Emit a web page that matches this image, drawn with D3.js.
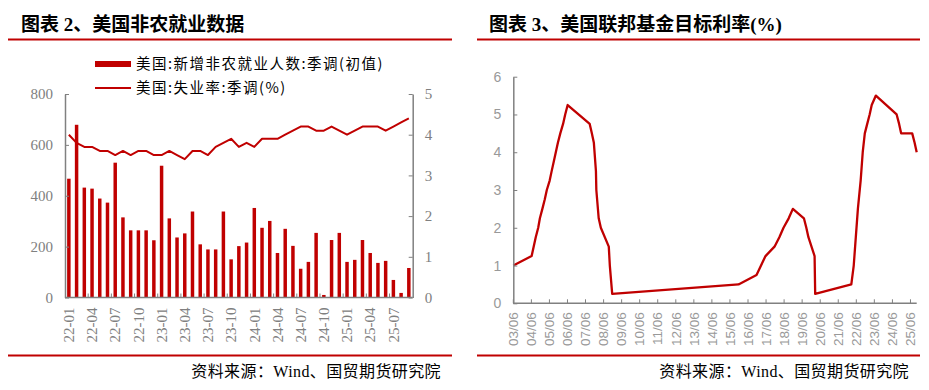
<!DOCTYPE html>
<html><head><meta charset="utf-8">
<script src="https://cdn.jsdelivr.net/npm/d3@7/dist/d3.min.js"></script>
<style>body{margin:0;background:#fff}svg{display:block}</style>
</head><body>
<svg id="c" width="929" height="390"></svg>
<script>
// ---------- DATA ----------
const months = ["22-01","22-02","22-03","22-04","22-05","22-06","22-07","22-08","22-09","22-10","22-11","22-12",
  "23-01","23-02","23-03","23-04","23-05","23-06","23-07","23-08","23-09","23-10","23-11","23-12",
  "24-01","24-02","24-03","24-04","24-05","24-06","24-07","24-08","24-09","24-10","24-11","24-12",
  "25-01","25-02","25-03","25-04","25-05","25-06","25-07","25-08","25-09"];
const payrolls = [467,679,432,428,389,373,530,315,264,264,264,225,
  518,311,236,252,338,209,189,189,338,150,202,216,
  352,274,301,175,270,203,113,140,254,10,226,254,
  140,148,226,175,136,144,69,18,116];
const unemployment = [4.0,3.8,3.7,3.7,3.6,3.6,3.5,3.6,3.5,3.6,3.6,3.5,
  3.5,3.6,3.5,3.4,3.6,3.6,3.5,3.7,3.8,3.9,3.7,3.8,
  3.7,3.9,3.9,3.9,4.0,4.1,4.2,4.2,4.1,4.1,4.2,4.1,
  4.0,4.1,4.2,4.2,4.2,4.1,4.2,4.3,4.4];
const payrollTicks = [0,200,400,600,800];
const rateTicksL = [0,1,2,3,4,5];

const fedDates = ["2003-06-25","2004-06-30","2004-08-10","2004-09-21","2004-11-10","2004-12-14",
  "2005-02-02","2005-03-22","2005-05-03","2005-06-30","2005-08-09","2005-09-20","2005-11-01","2005-12-13",
  "2006-01-31","2006-03-28","2006-05-10","2006-06-29","2007-09-18","2007-10-31","2007-12-11",
  "2008-01-22","2008-01-30","2008-03-18","2008-04-30","2008-10-08","2008-10-29","2008-12-16",
  "2015-12-16","2016-12-14","2017-03-15","2017-06-14","2017-12-13","2018-03-21","2018-06-13",
  "2018-09-26","2018-12-19","2019-07-31","2019-09-18","2019-10-30","2020-03-03","2020-03-15",
  "2022-03-16","2022-05-04","2022-06-15","2022-07-27","2022-09-21","2022-11-02","2022-12-14",
  "2023-02-01","2023-03-22","2023-05-03","2023-07-26","2024-09-18","2024-11-07","2024-12-18",
  "2025-07-30","2025-09-17","2025-10-29"];
const fedRate = [1.00,1.25,1.50,1.75,2.00,2.25,
  2.50,2.75,3.00,3.25,3.50,3.75,4.00,4.25,
  4.50,4.75,5.00,5.25,4.75,4.50,4.25,
  3.50,3.00,2.25,2.00,1.50,1.00,0.25,
  0.50,0.75,1.00,1.25,1.50,1.75,2.00,
  2.25,2.50,2.25,2.00,1.75,1.25,0.25,
  0.50,1.00,1.75,2.50,3.25,4.00,4.50,
  4.75,5.00,5.25,5.50,5.00,4.75,4.50,
  4.50,4.25,4.00];
const fedTickLabels = ["03/06","04/06","05/06","06/06","07/06","08/06","09/06","10/06","11/06","12/06",
  "13/06","14/06","15/06","16/06","17/06","18/06","19/06","20/06","21/06","22/06","23/06","24/06","25/06"];
const fedYTicks = [0,1,2,3,4,5,6];

// ---------- DRAW ----------
const svg = d3.select("#c");
const RED = "#C00000", GREY = "#808080";
const cjk = "'Liberation Serif','Noto Sans CJK SC',serif";

function decor(x0, x1, tx, title) {
  svg.append("text").attr("x", tx).attr("y", 31).text(title)
    .attr("font-family", cjk).attr("font-weight", "bold").attr("font-size", 19).attr("fill", "#000");
  svg.append("line").attr("x1", x0).attr("x2", x1).attr("y1", 39.5).attr("y2", 39.5)
    .attr("stroke", RED).attr("stroke-width", 2);
  svg.append("line").attr("x1", x0).attr("x2", x1).attr("y1", 355.5).attr("y2", 355.5)
    .attr("stroke", RED).attr("stroke-width", 2);
  svg.append("text").attr("x", x1 - 11).attr("y", 377).attr("text-anchor", "end")
    .text("资料来源：Wind、国贸期货研究院").attr("letter-spacing", 0.4)
    .attr("font-family", cjk).attr("font-size", 16).attr("fill", "#000");
}
decor(8, 452, 21, "图表 2、美国非农就业数据");
decor(477, 920, 489, "图表 3、美国联邦基金目标利率(%)");

// ----- left chart -----
const L = {x0: 65, x1: 412.7, yTop: 94, yBot: 297.5};
const xB = d3.scaleBand().domain(months).range([L.x0, L.x1]).paddingInner(0.55).paddingOuter(0.275);
const yP = d3.scaleLinear().domain([0, 800]).range([L.yBot, L.yTop]);
const yU = d3.scaleLinear().domain([0, 5]).range([L.yBot, L.yTop]);

const gL = svg.append("g");
gL.selectAll("rect.bar").data(payrolls).join("rect").attr("class", "bar")
  .attr("x", (d, i) => xB(months[i])).attr("width", xB.bandwidth())
  .attr("y", d => yP(d)).attr("height", d => yP(0) - yP(d)).attr("fill", RED);

const lineU = d3.line().x((d, i) => xB(months[i]) + xB.bandwidth() / 2).y(d => yU(d));
gL.append("path").datum(unemployment).attr("d", lineU).attr("fill", "none")
  .attr("stroke", RED).attr("stroke-width", 2).attr("stroke-linejoin", "round");

function styleAxis(g, font, size) {
  g.select(".domain").attr("stroke", GREY).attr("stroke-width", 1.5);
  g.selectAll(".tick line").attr("stroke", GREY).attr("stroke-width", 1);
  g.selectAll(".tick text").attr("fill", GREY).attr("font-family", font).attr("font-size", size);
}
const serif = "'Liberation Serif','Times New Roman',serif";
const sans = "'Liberation Sans',Arial,sans-serif";
const intFmt = d3.format("d");

const axL = svg.append("g").attr("transform", `translate(${L.x0},0)`)
  .call(d3.axisLeft(yP).tickValues(payrollTicks).tickFormat(intFmt).tickSize(-4).tickSizeOuter(0).tickPadding(12));
styleAxis(axL, serif, 15);
const axR = svg.append("g").attr("transform", `translate(${L.x1},0)`)
  .call(d3.axisRight(yU).tickValues(rateTicksL).tickFormat(intFmt).tickSize(-4).tickSizeOuter(0).tickPadding(12));
styleAxis(axR, serif, 15);

// bottom category axis
const step = xB.step();
const labelIdx = months.map((m, i) => i).filter(i => i % 3 === 0);
const axB = svg.append("g");
axB.append("line").attr("x1", L.x0).attr("x2", L.x1).attr("y1", L.yBot).attr("y2", L.yBot)
  .attr("stroke", GREY).attr("stroke-width", 1.5);
axB.selectAll("line.t").data(labelIdx.slice(1)).join("line").attr("class", "t")
  .attr("x1", i => L.x0 + step * i).attr("x2", i => L.x0 + step * i)
  .attr("y1", L.yBot).attr("y2", L.yBot - 4).attr("stroke", GREY);
axB.selectAll("text").data(labelIdx).join("text")
  .attr("transform", i => `translate(${xB(months[i]) + xB.bandwidth() / 2},${L.yBot + 10}) rotate(-90)`)
  .attr("text-anchor", "end").attr("dy", "0.35em")
  .attr("font-family", serif).attr("font-size", 15).attr("fill", GREY).text(i => months[i]);

// legend
const lg = svg.append("g").attr("font-family", "'Noto Sans CJK SC',sans-serif").attr("font-size", 14.5)
  .attr("fill", "#000").attr("letter-spacing", 1.5);
lg.append("rect").attr("x", 95).attr("y", 61).attr("width", 36).attr("height", 6).attr("fill", RED);
lg.append("text").attr("x", 136).attr("y", 64).attr("dy", "0.35em").text("美国:新增非农就业人数:季调(初值)");
lg.append("line").attr("x1", 95).attr("x2", 131).attr("y1", 88).attr("y2", 88).attr("stroke", RED).attr("stroke-width", 2);
lg.append("text").attr("x", 136).attr("y", 88).attr("dy", "0.35em").text("美国:失业率:季调(%)");

// ----- right chart -----
const R = {x0: 513.3, x1: 916.7, yTop: 76.7, yBot: 303.3};
const parse = d3.timeParse("%Y-%m-%d");
const fedPts = fedDates.map((d, i) => ({t: parse(d), v: fedRate[i]}));
const xT = d3.scaleTime().domain([fedPts[0].t, fedPts[fedPts.length - 1].t]).range([R.x0, R.x1]);
const yF = d3.scaleLinear().domain([0, 6]).range([R.yBot, R.yTop]);

svg.append("path").datum(fedPts).attr("d", d3.line().x(d => xT(d.t)).y(d => yF(d.v)))
  .attr("fill", "none").attr("stroke", RED).attr("stroke-width", 2.3).attr("stroke-linejoin", "round");

const axF = svg.append("g").attr("transform", `translate(${R.x0},0)`)
  .call(d3.axisLeft(yF).tickValues(fedYTicks).tickFormat(intFmt).tickSize(-4).tickSizeOuter(0).tickPadding(12));
styleAxis(axF, sans, 14);
axF.selectAll(".tick text").attr("fill", "#999");

const tickDates = fedTickLabels.map(s => new Date(2000 + +s.slice(0, 2), +s.slice(3) - 1, 25));
const axT = svg.append("g");
axT.append("line").attr("x1", R.x0).attr("x2", R.x1).attr("y1", R.yBot).attr("y2", R.yBot)
  .attr("stroke", GREY).attr("stroke-width", 1.5);
axT.selectAll("line.t").data(tickDates).join("line").attr("class", "t")
  .attr("x1", d => xT(d)).attr("x2", d => xT(d)).attr("y1", R.yBot).attr("y2", R.yBot - 4).attr("stroke", GREY);
axT.selectAll("text").data(fedTickLabels).join("text")
  .attr("transform", (s, i) => `translate(${xT(tickDates[i])},${R.yBot + 9}) rotate(-90)`)
  .attr("text-anchor", "end").attr("dy", "0.35em")
  .attr("font-family", sans).attr("font-size", 13.5).attr("fill", "#999").text(s => s);
</script>
</body></html>
